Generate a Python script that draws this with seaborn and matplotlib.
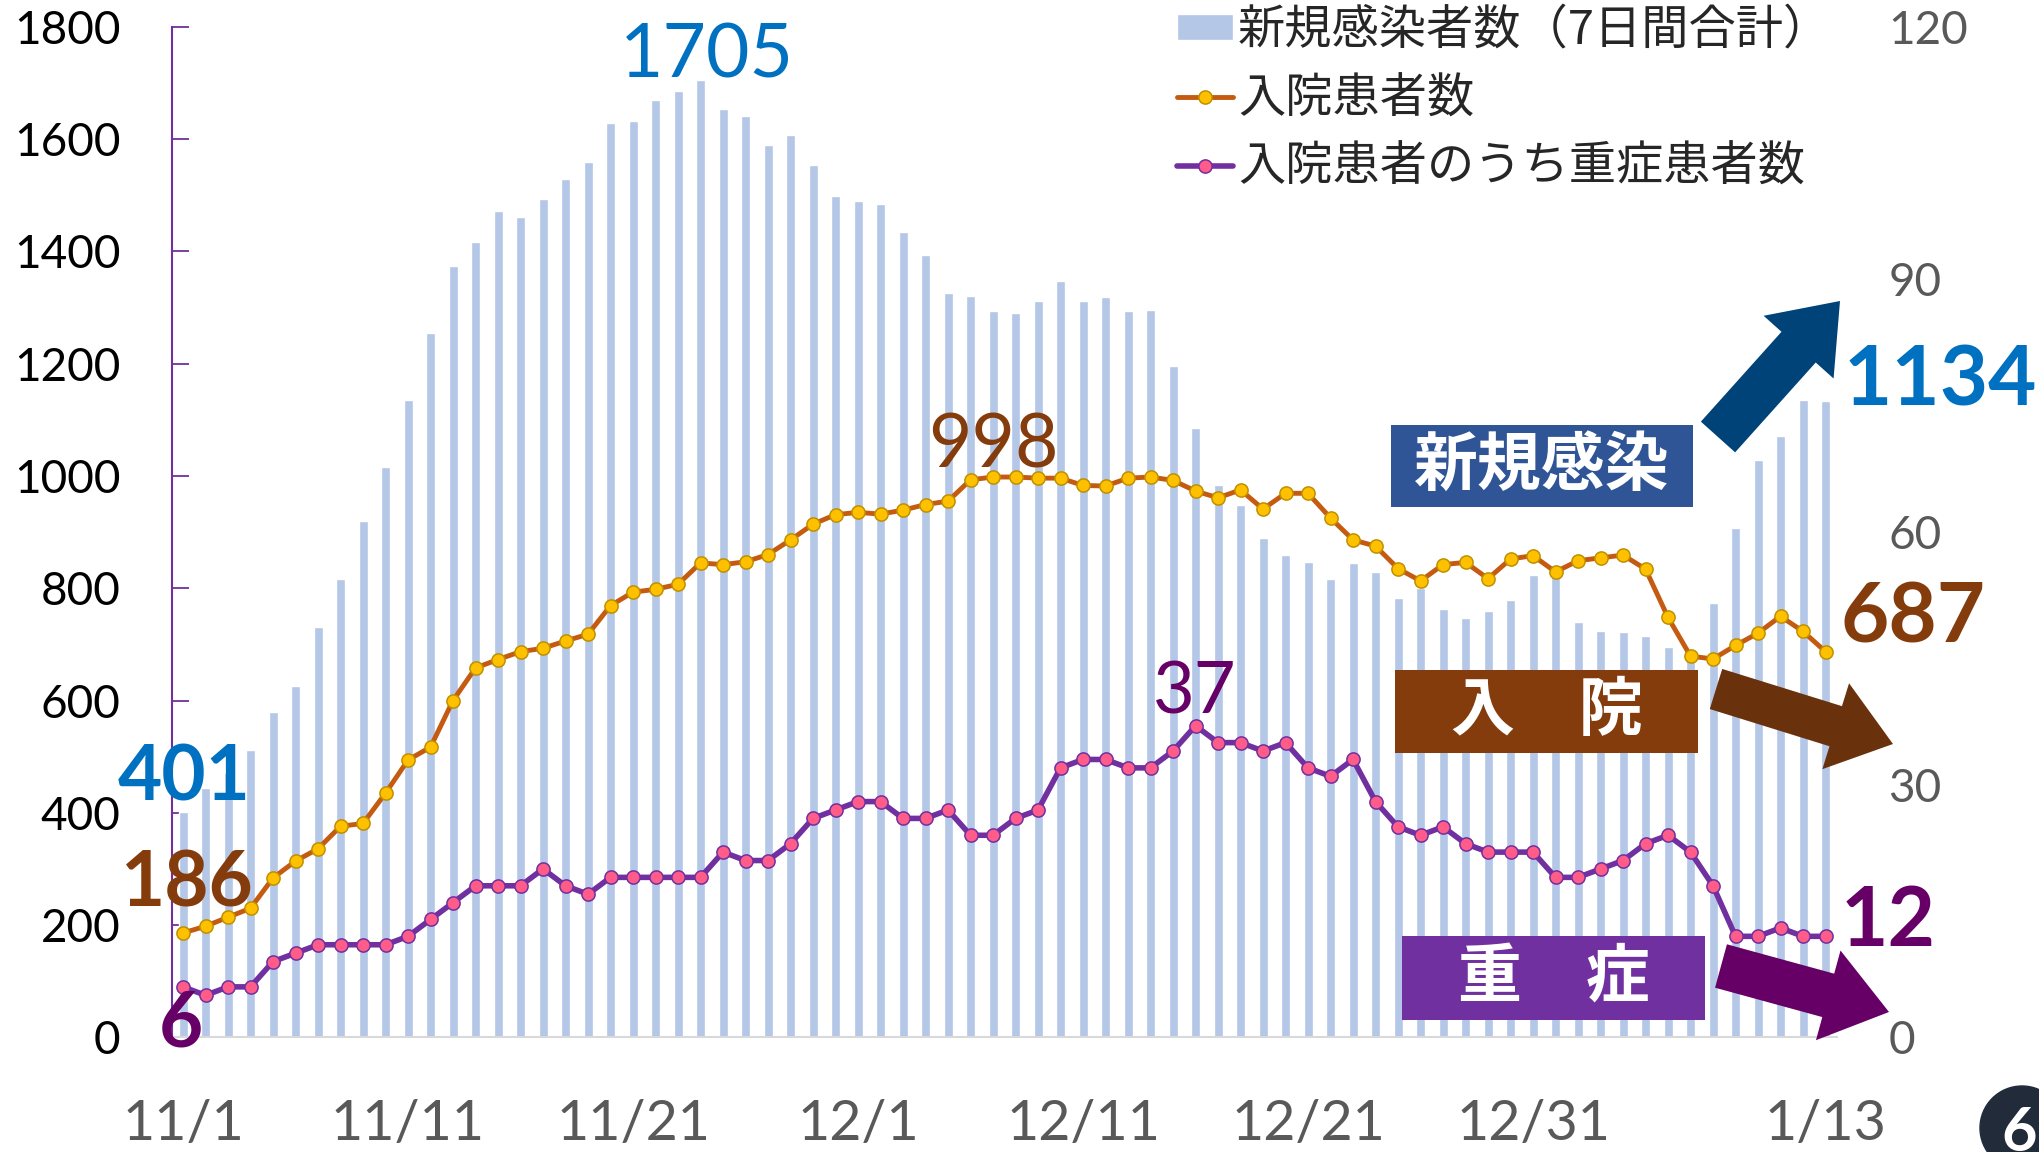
import numpy as np
import pandas as pd
import matplotlib
matplotlib.use("Agg")
import matplotlib.pyplot as plt
import seaborn as sns
from matplotlib.patches import Patch, Rectangle, FancyArrow, Circle
from matplotlib.lines import Line2D
from matplotlib.transforms import Affine2D

# 11/1 〜 1/13 の日別データ
new_cases = [401, 444, 470, 512, 580, 625, 731, 816, 919, 1016,
             1136, 1254, 1373, 1417, 1472, 1461, 1493, 1529, 1559, 1629,
             1632, 1669, 1685, 1705, 1653, 1641, 1590, 1607, 1554, 1499,
             1490, 1484, 1435, 1394, 1325, 1320, 1293, 1290, 1312, 1347,
             1312, 1319, 1294, 1295, 1196, 1086, 983, 948, 890, 860,
             847, 817, 845, 828, 783, 800, 763, 747, 760, 779,
             823, 838, 740, 723, 722, 714, 696, 680, 773, 908,
             1029, 1071, 1136, 1134]
hospitalized = [186, 198, 214, 230, 284, 314, 336, 376, 381, 435,
                494, 517, 600, 658, 673, 687, 693, 706, 718, 769,
                793, 798, 807, 845, 842, 847, 860, 886, 914, 931,
                935, 932, 939, 949, 955, 993, 998, 998, 996, 996,
                983, 982, 996, 998, 992, 973, 961, 975, 941, 969,
                969, 925, 886, 875, 835, 813, 842, 846, 817, 852,
                858, 829, 849, 854, 859, 834, 748, 679, 674, 698,
                720, 750, 723, 687]
severe = [6, 5, 6, 6, 9, 10, 11, 11, 11, 11,
          12, 14, 16, 18, 18, 18, 20, 18, 17, 19,
          19, 19, 19, 19, 22, 21, 21, 23, 26, 27,
          28, 28, 26, 26, 27, 24, 24, 26, 27, 32,
          33, 33, 32, 32, 34, 37, 35, 35, 34, 35,
          32, 31, 33, 28, 25, 24, 25, 23, 22, 22,
          22, 19, 19, 20, 21, 23, 24, 22, 18, 12,
          12, 13, 12, 12]

tick_days = [0, 10, 20, 30, 40, 50, 60, 73]
tick_labels = ["11/1", "11/11", "11/21", "12/1", "12/11", "12/21", "12/31", "1/13"]
left_ticks = list(range(0, 1801, 200))
right_ticks = [0, 30, 60, 90, 120]
legend_labels = ["新規感染者数（7日間合計）", "入院患者数", "入院患者のうち重症患者数"]

days = np.arange(len(new_cases))
df = pd.DataFrame({"day": days, "new": new_cases, "hosp": hospitalized, "severe": severe})

BAR = "#B4C7E7"
ORANGE = "#C55A11"
PURPLE = "#7030A0"
GRAY = "#595959"
JP = "Noto Sans CJK JP"

hosp_style = dict(color=ORANGE, linewidth=3.5, marker="o", markersize=9.5,
                  markerfacecolor="#FFC000", markeredgecolor="#BF9000", markeredgewidth=1.1)
sev_style = dict(color=PURPLE, linewidth=4.0, marker="o", markersize=9.5,
                 markerfacecolor="#FF5C8A", markeredgecolor=PURPLE, markeredgewidth=1.1)

W, H = 2039, 1152
sns.set_style("white")
plt.rcParams["font.family"] = ["Lato", JP, "DejaVu Sans"]

fig, ax = plt.subplots(figsize=(W / 100, H / 100), dpi=100)
fig.subplots_adjust(left=172 / W, right=1837 / W, bottom=1 - 1037.4 / H, top=1 - 26.7 / H)
# 画像のピクセル座標（上から下）
pix = Affine2D().scale(1 / W, -1 / H).translate(0, 1) + fig.transFigure

sns.barplot(data=df, x="day", y="new", color=BAR, saturation=1, width=0.4,
            errorbar=None, ax=ax)
sns.lineplot(data=df, x="day", y="hosp", ax=ax, **hosp_style)

ax2 = ax.twinx()
sns.lineplot(data=df, x="day", y="severe", ax=ax2, **sev_style)

ax.set_xlim(-0.49, 73.51)
ax.set_ylim(0, 1800)
ax2.set_ylim(0, 120)
ax.set_xticks(tick_days, tick_labels)
ax.set_yticks(left_ticks)
ax2.set_yticks(right_ticks)
for a in (ax, ax2):
    a.set_xlabel("")
    a.set_ylabel("")

ax.tick_params(axis="x", length=0, pad=44, labelsize=40, labelcolor=GRAY)
ax.tick_params(axis="y", direction="in", length=12, width=1.3, color=PURPLE,
               pad=37, labelsize=33, labelcolor="black")
ax2.tick_params(axis="y", length=0, pad=37, labelsize=33, labelcolor=GRAY)

for s in ("top", "right"):
    ax.spines[s].set_visible(False)
ax.spines["left"].set_color(PURPLE)
ax.spines["left"].set_linewidth(1.5)
ax.spines["bottom"].set_color("#D9D9D9")
ax.spines["bottom"].set_linewidth(1.5)
for s in ax2.spines.values():
    s.set_visible(False)

# 凡例
handles = [Patch(facecolor=BAR),
           Line2D([0], [0], **hosp_style),
           Line2D([0], [0], **sev_style)]
fig.legend(handles, legend_labels, loc="upper left", bbox_to_anchor=(1177 / W, 1 - 6 / H),
           frameon=False, borderpad=0, borderaxespad=0, handlelength=1.19,
           handleheight=0.47, handletextpad=0.1, labelspacing=0.43,
           prop={"family": JP, "size": 34})

# 数値ラベル
def label(x, y, s, color, size, bold=False):
    fig.text(x, y, s, transform=pix, color=color, fontsize=size, ha="center",
             va="center_baseline", fontweight="bold" if bold else "normal")

label(707, 49, "1705", "#0070C0", 54)
label(184, 772, "401", "#0070C0", 55, True)
label(187, 878, "186", "#843C0C", 55, True)
label(181, 1018, "6", "#660066", 55, True)
label(993, 439, "998", "#843C0C", 54)
label(1195, 687, "37", "#660066", 52)
label(1940, 375, "1134", "#0070C0", 60, True)
label(1913, 612, "687", "#843C0C", 60, True)
label(1888, 915, "12", "#660066", 59, True)

# 見出しボックス
boxes = [((1391, 425, 1693, 507), "新規感染", "#2F5597"),
         ((1395, 670, 1698, 753), "入\u3000院", "#843C0C"),
         ((1402, 936, 1705, 1020), "重\u3000症", PURPLE)]
for (x0, y0, x1, y1), txt, col in boxes:
    fig.add_artist(Rectangle((x0, y1), x1 - x0, y0 - y1, transform=pix,
                             facecolor=col, edgecolor="none", zorder=5))
    fig.text((x0 + x1) / 2, (y0 + y1) / 2, txt, transform=pix, color="white",
             fontsize=46, fontweight="bold", family=JP, ha="center", va="center", zorder=6)

# 矢印
arrows = [((1718, 437), (1840, 301), 46, 94, 62, "#004379"),
          ((1716, 689), (1893, 744), 42, 90, 60, "#6A320C"),
          ((1721, 966), (1889, 1012), 45, 93, 63, "#660066")]
for (x0, y0), (x1, y1), w, hw, hl, col in arrows:
    fig.add_artist(FancyArrow(x0, y0, x1 - x0, y1 - y0, width=w, head_width=hw,
                              head_length=hl, length_includes_head=True,
                              transform=pix, color=col, lw=0, zorder=5))

# ページ番号
fig.add_artist(Circle((2022, 1128), 42, transform=pix, color="#222B3A", zorder=5))
fig.text(2019, 1128, "6", transform=pix, color="white", fontsize=44, fontweight="bold",
         ha="center", va="center_baseline", zorder=6)

fig.savefig("out.png", dpi=100)
